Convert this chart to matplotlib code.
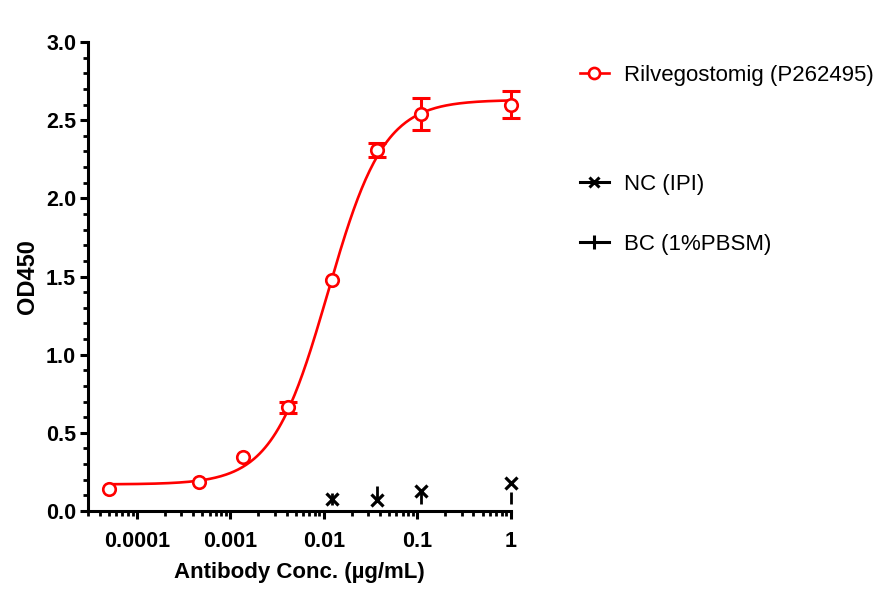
import numpy as np
import matplotlib
matplotlib.use("Agg")
import matplotlib.pyplot as plt
from matplotlib.lines import Line2D
from matplotlib.ticker import LogLocator, MultipleLocator, FixedLocator, FixedFormatter

plt.rcParams['font.family'] = ['Liberation Sans', 'DejaVu Sans']

# sample data (µg/mL, OD450)
conc = [1.0, 0.111, 0.037, 0.0123, 0.00412, 0.00137, 0.000457, 0.0000508]
od = [2.60, 2.54, 2.31, 1.48, 0.665, 0.343, 0.185, 0.14]
od_err = [0.087, 0.105, 0.045, 0.0, 0.035, 0.0, 0.0, 0.0]

nc_conc = [1.0, 0.111, 0.037, 0.0123]
nc_od = [0.18, 0.13, 0.072, 0.075]

bc_conc = [1.0, 0.111, 0.037, 0.0123]
bc_od = [0.083, 0.086, 0.12, 0.075]

# 4PL fit parameters for the red curve
bottom, top, ec50, hill = 0.17, 2.63, 0.0111, 1.45

red = '#FF0000'

fig = plt.figure(figsize=(8.85, 6.01), dpi=100)
ax = fig.add_axes([0.0994, 0.1498, 0.4776, 0.7802])

xs = np.logspace(np.log10(min(conc)), 0, 300)
fit = bottom + (top - bottom) / (1 + (ec50 / xs) ** hill)
ax.plot(xs, fit, color=red, lw=1.9, zorder=3)

# error bars only where there is a visible spread
has_err = [e > 0 for e in od_err]
ex = [c for c, h in zip(conc, has_err) if h]
ey = [v for v, h in zip(od, has_err) if h]
ee = [e for e, h in zip(od_err, has_err) if h]
ax.errorbar(ex, ey, yerr=ee, fmt='none', ecolor=red, elinewidth=2.2,
            capsize=6.5, capthick=2.2, zorder=4, clip_on=False)
ax.plot(conc, od, ls='none', marker='o', mfc='white', mec=red, ms=9, mew=1.9,
        zorder=5, clip_on=False)

ax.plot(bc_conc, bc_od, ls='none', marker='|', color='black', ms=9, mew=2.0,
        zorder=5, clip_on=False)
ax.plot(nc_conc, nc_od, ls='none', marker='x', color='black', ms=8.5, mew=2.3,
        zorder=6, clip_on=False)

ax.set_xscale('log')
ax.set_xlim(3e-5, 1)
ax.set_ylim(0, 3.0)

ax.xaxis.set_major_locator(FixedLocator([1e-4, 1e-3, 1e-2, 1e-1, 1]))
ax.xaxis.set_major_formatter(FixedFormatter(['0.0001', '0.001', '0.01', '0.1', '1']))
ax.xaxis.set_minor_locator(LogLocator(base=10, subs=np.arange(2, 10), numticks=20))
ax.yaxis.set_major_locator(MultipleLocator(0.5))
ax.yaxis.set_minor_locator(MultipleLocator(0.1))
ax.yaxis.set_major_formatter(plt.FuncFormatter(lambda v, p: f"{v:.1f}"))

for s in ['top', 'right']:
    ax.spines[s].set_visible(False)
for s in ['left', 'bottom']:
    ax.spines[s].set_linewidth(2.2)

ax.tick_params(which='major', length=5.5, width=2.2, direction='out', pad=3)
ax.tick_params(which='minor', length=3.5, width=2.0, direction='out')
ax.tick_params(axis='x', which='major', pad=9)
for lab in ax.get_xticklabels() + ax.get_yticklabels():
    lab.set_fontsize(15.5)
    lab.set_fontweight('bold')

ax.set_xlabel('Antibody Conc. (µg/mL)', fontsize=16, fontweight='bold', labelpad=7)
ax.set_ylabel('OD450', fontsize=17, fontweight='bold', labelpad=5)

h_red = Line2D([], [], color=red, lw=1.9, marker='o', mfc='white', mec=red, ms=8, mew=1.9)
h_nc = Line2D([], [], color='black', lw=2.2, marker='x', ms=7, mew=2.2)
h_bc = Line2D([], [], color='black', lw=2.2, marker='|', ms=10, mew=2.2)

leg_kw = dict(frameon=False, fontsize=16, handlelength=1.3, handletextpad=0.7,
              borderaxespad=0, loc='upper left')
fig.legend([h_red], ['Rilvegostomig (P262495)'], bbox_to_anchor=(0.645, 0.907), **leg_kw)
fig.legend([h_nc, h_bc], ['NC (IPI)', 'BC (1%PBSM)'], bbox_to_anchor=(0.645, 0.725),
           labelspacing=1.75, **leg_kw)

fig.savefig('out.png', dpi=100)
